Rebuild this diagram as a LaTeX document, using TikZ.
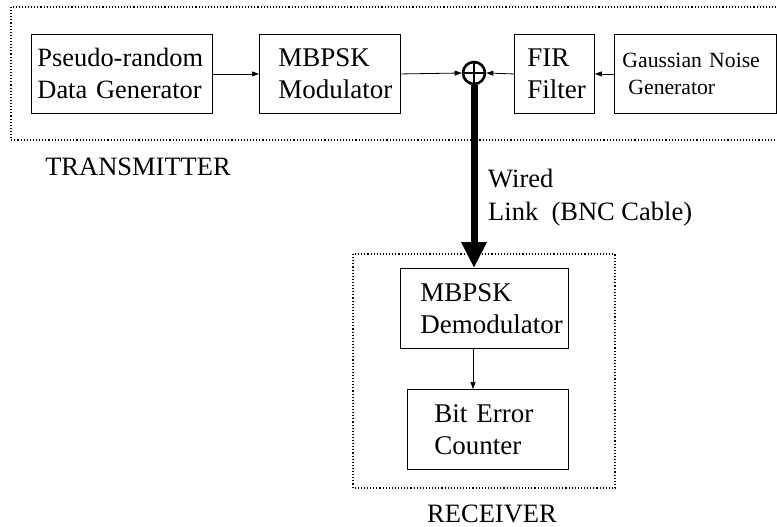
\documentclass[tikz,border=0pt]{standalone}
\usepackage{fontspec}
\setmainfont{Liberation Serif}
\usetikzlibrary{arrows.meta}
\begin{document}
\begin{tikzpicture}[x=1pt,y=-1pt,
  blk/.style={draw, line width=0.9pt, anchor=north west, align=left,
    font=\fontsize{27}{32}\selectfont, inner ysep=0pt},
  grp/.style={draw, dotted, line width=1.1pt},
  sig/.style={line width=0.8pt, -{Triangle[length=7pt,width=5pt]}},
  lbl/.style={font=\fontsize{26.5}{33}\selectfont, inner sep=0pt}]
\useasboundingbox (0,0) rectangle (777,527);
\clip (0,0) rectangle (777,527);

% transmitter and receiver groups
\draw[grp] (11,7) rectangle (800,140);
\draw[grp] (353,254) rectangle (615,488);
\node[lbl] (txl) at (138,167) {TRANSMITTER};
\node[lbl] (rxl) at (492,514) {RECEIVER};

% transmitter blocks
\node[blk, minimum width=181, minimum height=79, inner xsep=6, text width=169,
  font=\fontsize{26.4}{32}\selectfont]
  (prng) at (31,34) {\mbox{Pseudo-random}\\\mbox{Data Generator}};
\node[blk, minimum width=141, minimum height=79, inner xsep=19, text width=103]
  (mod) at (259,34) {MBPSK\\Modulator};
\node[blk, minimum width=80, minimum height=79, inner xsep=13, text width=54]
  (fir) at (514,34) {FIR\\Filter};
\node[blk, minimum width=162, minimum height=79, inner xsep=8, text width=146,
  font=\fontsize{21.7}{27}\selectfont]
  (gng) at (614,34) {Gaussian Noise\\\hspace*{6pt}Generator};

% summing junction
\node[circle, draw, line width=2.6pt, minimum size=22, inner sep=0pt] (sum) at (474,73) {};
\draw[line width=2.6pt] (sum.north) -- (sum.south) (sum.west) -- (sum.east);

% receiver blocks
\node[blk, minimum width=168, minimum height=80, inner xsep=20, text width=128]
  (demod) at (400,268) {MBPSK\\Demodulator};
\node[blk, minimum width=161, minimum height=80, inner xsep=27, text width=107]
  (ber) at (407,389) {Bit Error\\Counter};

% signal flow
\draw[sig] (prng.east) -- (mod.west);
\draw[sig] (mod.east) -- (sum.west);
\draw[sig] (fir.west) -- (sum.east);
\draw[sig] (gng.west) -- (fir.east);
\draw[sig] (demod.south -| 473,0) -- (ber.north -| 473,0);

% wired link
\draw[line width=7pt, -{Triangle[length=26pt,width=24pt]}] (sum.south) -- (demod.north -| sum.south);
\node[lbl, anchor=north west, align=left] (wl) at (488,169)
  {Wired\\Link\ \ (BNC Cable)};
\end{tikzpicture}
\end{document}
